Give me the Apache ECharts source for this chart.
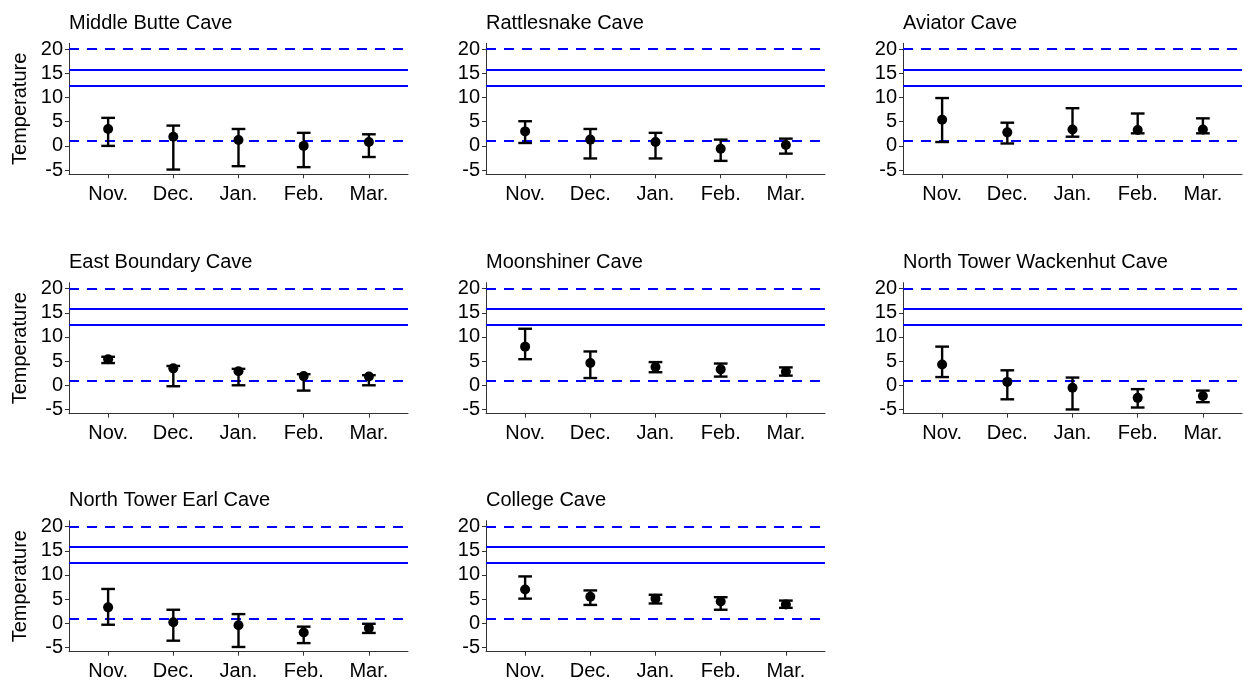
<!DOCTYPE html>
<html>
<head>
<meta charset="utf-8">
<script src="https://cdn.jsdelivr.net/npm/echarts@6/dist/echarts.min.js"></script>
<style>
html,body{margin:0;padding:0;background:#fff;}
#chart{width:1244px;height:683px;}
</style>
</head>
<body>
<div id="chart"></div>
<script>
// ---------- DATA ----------
const months = ['Nov.', 'Dec.', 'Jan.', 'Feb.', 'Mar.'];
const caves = ['Middle Butte Cave', 'Rattlesnake Cave', 'Aviator Cave',
  'East Boundary Cave', 'Moonshiner Cave', 'North Tower Wackenhut Cave',
  'North Tower Earl Cave', 'College Cave'];
const meanTemps = [
  [3.5, 1.9, 1.2, 0.0, 0.8],
  [3.0, 1.3, 0.8, -0.6, 0.2],
  [5.4, 2.8, 3.4, 3.3, 3.4],
  [5.4, 3.5, 2.9, 1.9, 1.8],
  [8.0, 4.6, 3.8, 3.3, 2.8],
  [4.3, 0.7, -0.5, -2.6, -2.2],
  [3.3, 0.2, -0.4, -1.9, -1.0],
  [7.0, 5.5, 5.1, 4.5, 3.9]
];
const lowerTemps = [
  [0.0, -4.9, -4.2, -4.4, -2.3],
  [0.6, -2.6, -2.6, -3.1, -1.6],
  [0.8, 0.5, 1.9, 2.6, 2.6],
  [4.6, -0.2, 0.0, -1.1, 0.0],
  [5.4, 1.5, 2.7, 1.8, 2.0],
  [1.7, -2.9, -5.0, -4.6, -3.5],
  [-0.3, -3.6, -4.9, -4.1, -2.0],
  [5.1, 3.8, 4.1, 2.8, 3.2]
];
const upperTemps = [
  [5.8, 4.2, 3.5, 2.7, 2.4],
  [5.1, 3.5, 2.7, 1.3, 1.5],
  [9.9, 4.8, 7.8, 6.7, 5.7],
  [5.9, 4.0, 3.4, 2.3, 2.1],
  [11.7, 7.0, 4.8, 4.5, 3.7],
  [8.0, 3.1, 1.6, -0.8, -1.1],
  [7.1, 2.8, 1.9, -0.7, -0.1],
  [9.7, 6.8, 5.9, 5.4, 4.7]
];
const yTickValues = [-5, 0, 5, 10, 15, 20];
const refLineValues = [20, 15.8, 12.5, 1];
const refLineDashed = [true, false, false, true];

// ---------- LAYOUT ----------
const colLeft = [69, 486, 903];
const rowTop = [43.3, 282.7, 520.7];
const plotW = 339, plotH = 131;
const FONT = 'Liberation Sans, Arial, sans-serif';
const capWidth = 0.21;

const grids = [], xAxes = [], yAxes = [], series = [], titles = [];
caves.forEach((name, i) => {
  const r = Math.floor(i / 3), c = i % 3;
  grids.push({left: colLeft[c], top: rowTop[r], width: plotW, height: plotH});
  titles.push({
    text: name, left: colLeft[c], top: rowTop[r] - 30, padding: 0,
    textStyle: {fontSize: 20, fontWeight: 'normal', color: '#000', fontFamily: FONT}
  });
  const xTicks = months.map((m, k) => k + 1);
  xAxes.push({
    type: 'value', gridIndex: i, min: 0.4, max: 5.6,
    splitLine: {show: false},
    axisLine: {show: true, onZero: false, lineStyle: {color: '#333', width: 1}},
    axisTick: {show: true, customValues: xTicks, length: 4, lineStyle: {color: '#333', width: 1}},
    axisLabel: {show: true, customValues: xTicks, margin: 10,
      formatter: v => months[Math.round(v) - 1] || '',
      fontSize: 20, color: '#000', fontFamily: FONT}
  });
  yAxes.push({
    type: 'value', gridIndex: i, min: -5.88, max: 21.23,
    splitLine: {show: false},
    name: c === 0 ? 'Temperature' : '',
    nameLocation: 'middle', nameGap: 39, nameRotate: 90,
    nameTextStyle: {fontSize: 20, color: '#000', fontFamily: FONT},
    axisLine: {show: true, onZero: false, lineStyle: {color: '#333', width: 1}},
    axisTick: {show: true, customValues: yTickValues, length: 4, lineStyle: {color: '#333', width: 1}},
    axisLabel: {show: true, customValues: yTickValues, margin: 6,
      fontSize: 20, color: '#000', fontFamily: FONT}
  });
  series.push({
    type: 'scatter', xAxisIndex: i, yAxisIndex: i, z: 3,
    symbol: 'circle', symbolSize: 10,
    itemStyle: {color: '#000', opacity: 1},
    data: meanTemps[i].map((v, k) => [k + 1, v]),
    markLine: {
      silent: true, symbol: 'none', label: {show: false}, z: 2,
      data: refLineValues.map((v, k) => ({
        yAxis: v,
        lineStyle: {color: '#0000FF', width: 2.2, type: refLineDashed[k] ? [10, 8] : 'solid'}
      }))
    }
  });
  series.push({
    type: 'custom', xAxisIndex: i, yAxisIndex: i, z: 4,
    data: months.map((m, k) => [k + 1, lowerTemps[i][k], upperTemps[i][k]]),
    encode: {x: 0, y: [1, 2]},
    renderItem: (params, api) => {
      const x = api.value(0);
      const lo = api.coord([x, api.value(1)]);
      const hi = api.coord([x, api.value(2)]);
      const half = api.size([capWidth, 0])[0] / 2;
      const st = {stroke: '#000', lineWidth: 2.4};
      return {type: 'group', children: [
        {type: 'line', shape: {x1: lo[0], y1: lo[1], x2: hi[0], y2: hi[1]}, style: st},
        {type: 'line', shape: {x1: lo[0] - half, y1: lo[1], x2: lo[0] + half, y2: lo[1]}, style: st},
        {type: 'line', shape: {x1: hi[0] - half, y1: hi[1], x2: hi[0] + half, y2: hi[1]}, style: st}
      ]};
    }
  });
});

const chart = echarts.init(document.getElementById('chart'), null, {renderer: 'canvas'});
chart.setOption({
  animation: false,
  backgroundColor: '#fff',
  title: titles,
  grid: grids,
  xAxis: xAxes,
  yAxis: yAxes,
  series: series
});
</script>
</body>
</html>
